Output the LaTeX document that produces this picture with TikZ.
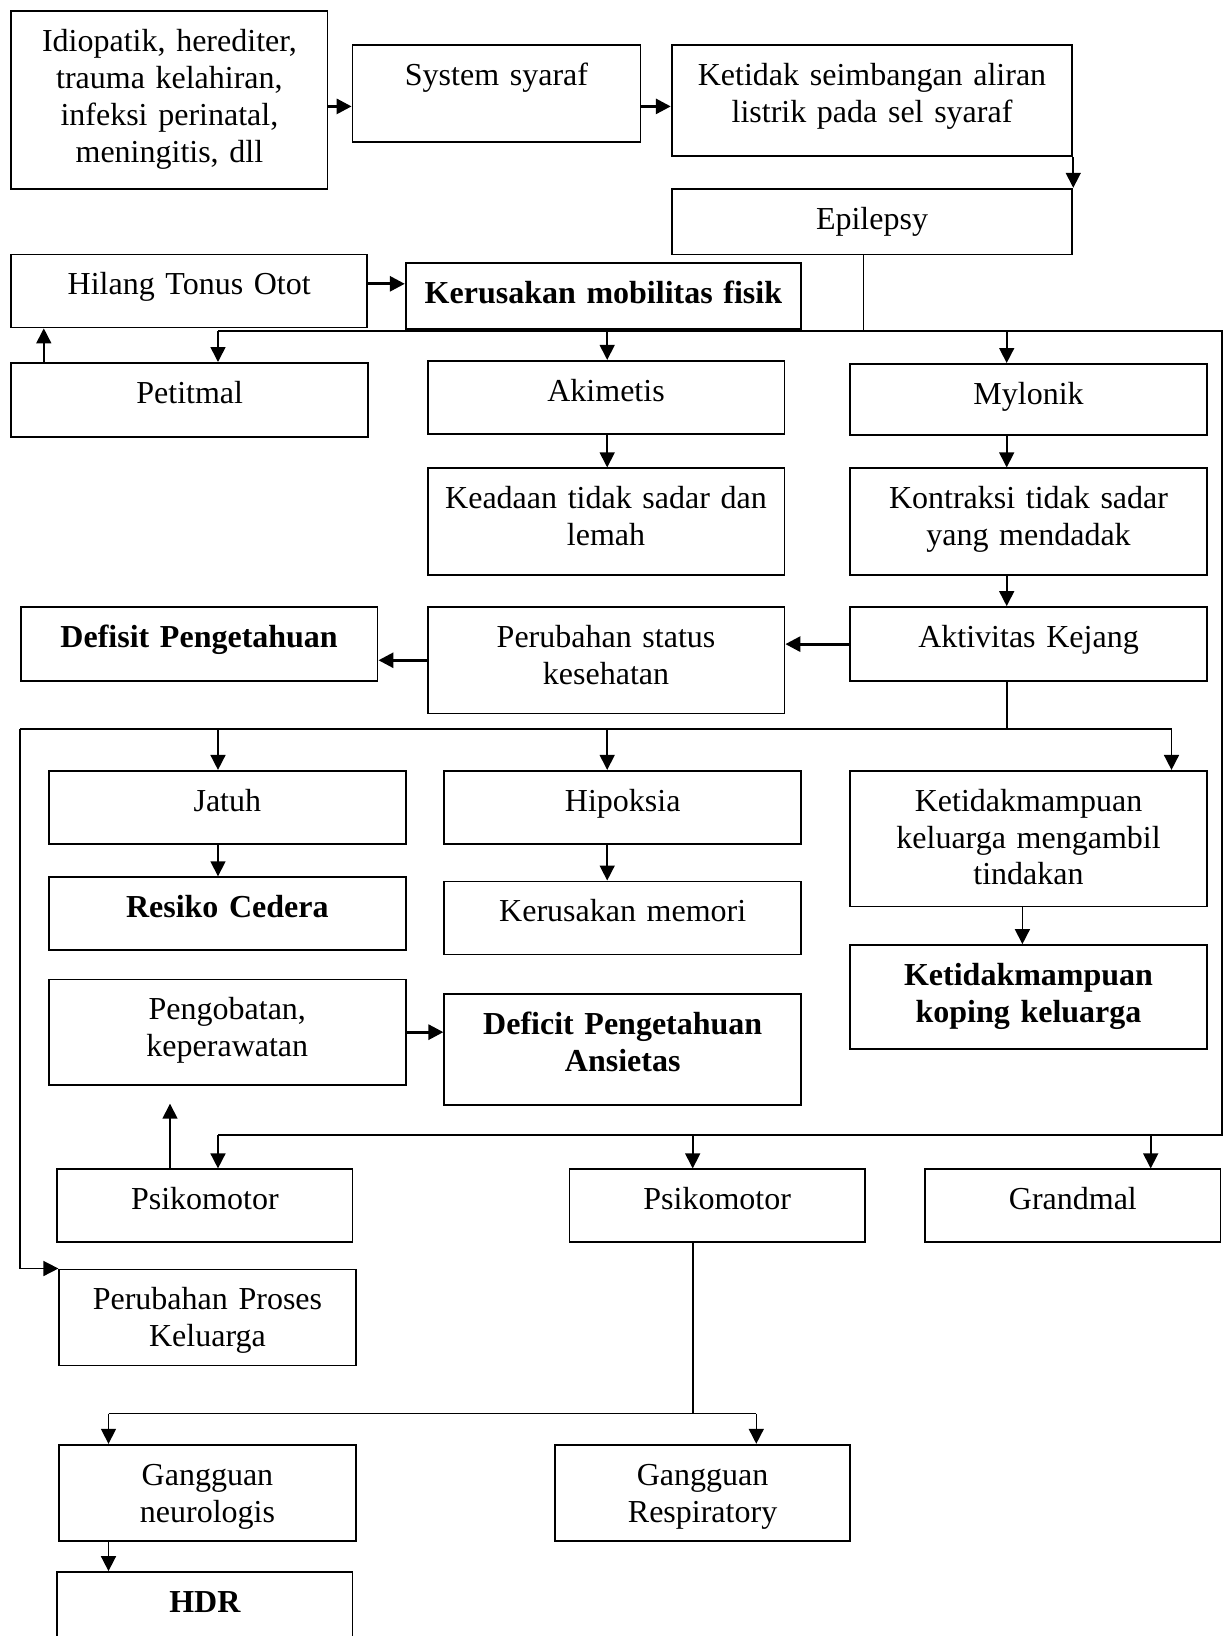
\documentclass[tikz,border=0pt]{standalone}
\usepackage{fontspec}
\setmainfont[WordSpace=0.8]{Liberation Serif}
\usepackage{tikz}
\usetikzlibrary{arrows.meta}

\begin{document}
\begin{tikzpicture}[
  x=0.375pt,y=-0.375pt,
  font=\fontsize{12}{13.8}\selectfont,
  box/.style 2 args={draw,line width=0.7pt,anchor=north west,inner sep=0pt,align=center,
    text width=#1*0.375pt,text height=15.2pt,text depth=(#2-40.5)*0.375pt},
  bbox/.style 2 args={box={#1}{#2},font=\fontsize{12}{13.8}\selectfont\bfseries},
  arr/.style={-{Triangle[length=5.6pt,width=5.6pt]},line width=0.6pt},
  harr/.style={arr,line width=1.1pt}
]
\useasboundingbox (0,0) rectangle (1231,1636);

% top row
\node[box={316.1}{177.4}] (idio) at (10.4,10.4) {Idiopatik, herediter,\\trauma kelahiran,\\infeksi perinatal,\\meningitis, dll};
\node[box={287.9}{97}] (sys) at (351.6,43.8) {System syaraf};
\node[box={400.6}{111.6}] (ketidak) at (670.8,43.8) {Ketidak seimbangan aliran\\listrik pada sel syaraf};
\node[box={400.6}{65.7}] (epi) at (670.8,187.8) {Epilepsy};
\node[box={355.8}{73}] (hilang) at (10.4,253.5) {Hilang Tonus Otot};
\node[bbox={395.4}{65.7}] (kerus) at (404.8,261.9) {Kerusakan mobilitas fisik};

% seizure types
\node[box={356.8}{74.1}] (petit) at (10.4,362) {Petitmal};
\node[box={356.8}{73}] (akim) at (426.7,359.9) {Akimetis};
\node[box={356.8}{71}] (mylo) at (849.2,363) {Mylonik};
\node[box={356.8}{106.4}] (keadaan) at (426.7,467.4) {Keadaan tidak sadar dan\\lemah};
\node[box={356.8}{106.4}] (kontr) at (849.2,467.4) {Kontraksi tidak sadar\\yang mendadak};
\node[bbox={356.8}{74.1}] (defisit) at (19.8,606.1) {Defisit Pengetahuan};
\node[box={356.8}{106.4}] (perub) at (426.7,606.1) {Perubahan status\\kesehatan};
\node[box={356.8}{74.1}] (aktiv) at (849.2,606.1) {Aktivitas Kejang};

% effects of seizure
\node[box={356.8}{73}] (jatuh) at (48,769.9) {Jatuh};
\node[box={356.8}{73}] (hipok) at (443.4,769.9) {Hipoksia};
\node[box={356.8}{135.6}] (ketmamp) at (849.2,769.9) {Ketidakmampuan\\keluarga mengambil\\tindakan};
\node[bbox={356.8}{73}] (resiko) at (48,876.3) {Resiko Cedera};
\node[box={356.8}{73}] (memori) at (443.4,880.5) {Kerusakan memori};
\node[bbox={356.8}{104.3}] (koping) at (849.2,944.1) {Ketidakmampuan\\koping keluarga};
\node[box={356.8}{105.4}] (pengob) at (48,978.5) {Pengobatan,\\keperawatan};
\node[bbox={356.8}{110.6}] (deficit) at (443.4,993.1) {Deficit Pengetahuan\\Ansietas};

% lower part
\node[box={295.3}{73}] (psikoA) at (56.3,1168.4) {Psikomotor};
\node[box={295.3}{73}] (psikoB) at (568.6,1168.4) {Psikomotor};
\node[box={295.3}{73}] (grand) at (924.3,1168.4) {Grandmal};
\node[box={296.3}{96}] (proses) at (58.4,1268.5) {Perubahan Proses\\Keluarga};
\node[box={296.3}{96}] (neuro) at (58.4,1443.8) {Gangguan\\neurologis};
\node[box={295.3}{96}] (resp) at (554,1443.8) {Gangguan\\Respiratory};
\node[bbox={295.3}{120}] (hdr) at (56.3,1571.1) {HDR};

% junctions
\coordinate (r1) at (0,106.4);
\coordinate (r2) at (0,283.8);
\coordinate (colA) at (218,0);
\coordinate (colB) at (607.2,0);
\coordinate (colC) at (1006.7,0);
\coordinate (colK) at (1022.4,0);
\coordinate (colG) at (1150.7,0);
\coordinate (cUp) at (43.8,0);
\coordinate (cPk) at (170,1103.7);
\coordinate (jEpi) at (863.8,330.7);
\coordinate (jTL) at (218,330.7);
\coordinate (jTR) at (1221.6,330.7);
\coordinate (jBR) at (1221.6,1135);
\coordinate (jBL) at (218,1135);
\coordinate (jML) at (19.8,729.2);
\coordinate (jMR) at (1171.5,729.2);
\coordinate (jPs) at (692.7,1413.6);
\coordinate (jGL) at (108.5,1413.6);
\coordinate (jGR) at (756.3,1413.6);

\draw[harr] (idio.east |- r1) -- (sys.west |- r1);
\draw[harr] (sys.east |- r1) -- (ketidak.west |- r1);
\draw[arr] (ketidak.south east) -- (epi.north east);
\draw[harr] (hilang.east |- r2) -- (kerus.west |- r2);

\draw (epi.south -| jEpi) -- (jEpi);
\draw[line width=0.7pt] (jTL) -- (jTR) -- (jBR) -- (jBL);
\draw[arr] (jTL) -- (petit.north -| jTL);
\draw[arr] (colB |- jTL) -- (akim.north -| colB);
\draw[arr] (colC |- jTL) -- (mylo.north -| colC);
\draw[arr] (petit.north -| cUp) -- (hilang.south -| cUp);
\draw[arr] (akim.south -| colB) -- (keadaan.north -| colB);
\draw[arr] (mylo.south -| colC) -- (kontr.north -| colC);
\draw[arr] (kontr.south -| colC) -- (aktiv.north -| colC);
\draw[harr] (aktiv.west) -- (perub.east |- aktiv.west);
\draw[harr] (perub.west) -- (defisit.east |- perub.west);

\draw[line width=0.6pt] (aktiv.south -| colC) -- (colC |- jML);
\draw[line width=0.7pt] (jML) -- (jMR);
\draw[arr] (colA |- jML) -- (jatuh.north -| colA);
\draw[arr] (colB |- jML) -- (hipok.north -| colB);
\draw[arr] (jMR) -- (ketmamp.north -| jMR);
\draw[arr] (jatuh.south -| colA) -- (resiko.north -| colA);
\draw[arr] (hipok.south -| colB) -- (memori.north -| colB);
\draw[arr] (ketmamp.south -| colK) -- (koping.north -| colK);
\draw[harr] (pengob.east) -- (deficit.west |- pengob.east);
\draw[arr] (jML) -- (jML |- proses.north west) -- (proses.north west);

\draw[arr] (jBL) -- (psikoA.north -| jBL);
\draw[arr] (jPs |- jBL) -- (psikoB.north -| jPs);
\draw[arr] (colG |- jBL) -- (grand.north -| colG);
\draw[arr] (psikoA.north -| cPk) -- (cPk);
\draw[line width=0.6pt] (psikoB.south -| jPs) -- (jPs);
\draw[line width=0.6pt] (jGL) -- (jGR);
\draw[arr] (jGL) -- (neuro.north -| jGL);
\draw[arr] (jGR) -- (resp.north -| jGR);
\draw[arr] (neuro.south -| jGL) -- (hdr.north -| jGL);
\end{tikzpicture}
\end{document}
